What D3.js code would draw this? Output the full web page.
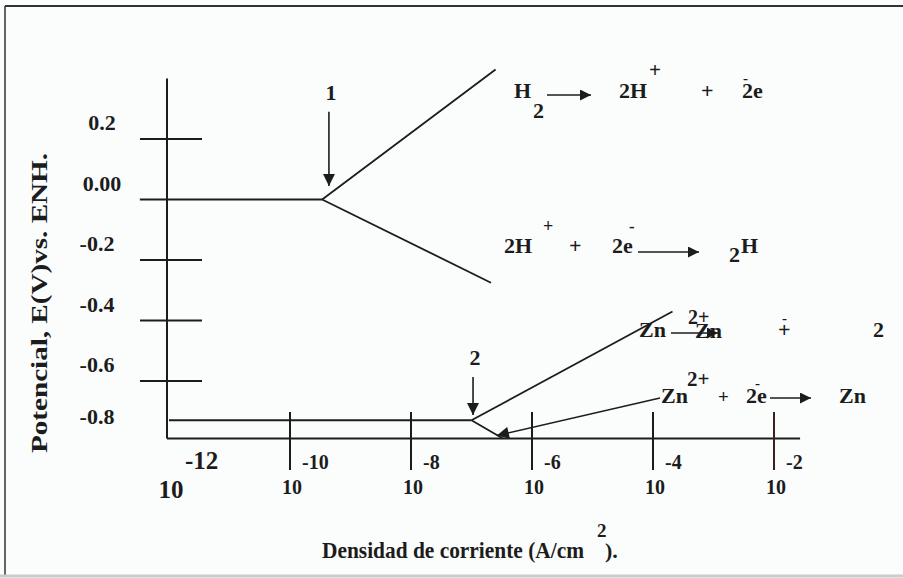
<!DOCTYPE html>
<html>
<head>
<meta charset="utf-8">
<script src="https://cdn.jsdelivr.net/npm/d3@7"></script>
<style>
  html, body { margin: 0; padding: 0; background: #fbfcfc; }
  svg { display: block; }
  text { font-family: "Liberation Serif", "Times New Roman", serif; font-weight: bold; fill: #1c1c1c; }
</style>
</head>
<body>
<svg id="chart" width="903" height="578"></svg>
<script>
// Potential (V vs. SHE) against current density (A/cm²): Evans diagram for H2 and Zn
const yTickValues = [0.2, -0.2, -0.4, -0.6];
const yLabelValues = [0.2, 0.0, -0.2, -0.4, -0.6, -0.8];
const yLabelText = ["0.2", "0.00", "-0.2", "-0.4", "-0.6", "-0.8"];
const xTickValues = [1e-12, 1e-10, 1e-8, 1e-6, 1e-4, 1e-2];
const xExponentText = ["-12", "-10", "-8", "-6", "-4", "-2"];

// hydrogen electrode: equilibrium line and the two Tafel branches
const h2Equilibrium = [{ i: 3.3e-13, e: 0.0 }, { i: 3.4e-10, e: 0.0 }];
const h2Anodic = [{ i: 3.4e-10, e: 0.0 }, { i: 2.5e-7, e: 0.43 }];
const h2Cathodic = [{ i: 3.4e-10, e: 0.0 }, { i: 2.1e-7, e: -0.275 }];

// zinc electrode
const znEquilibrium = [{ i: 1e-12, e: -0.73 }, { i: 1.0e-7, e: -0.73 }];
const znAnodic = [{ i: 1.0e-7, e: -0.73 }, { i: 2.1e-4, e: -0.37 }];
const znCathodic = [{ i: 1.0e-7, e: -0.73 }, { i: 3.3e-7, e: -0.79 }];

// exchange-current markers "1" and "2"
const markers = [
  { label: "1", i: 4.4e-10, eFrom: 0.29, eTo: 0.045 },
  { label: "2", i: 1.06e-7, eFrom: -0.587, eTo: -0.712 }
];

const axisExtent = { iMin: 1e-12, iMax: 2.7e-2, eMin: -0.79, eMax: 0.40 };

const svg = d3.select("#chart");
const ink = "#1c1c1c";

const x = d3.scaleLog().domain([1e-12, 1e-2]).range([169, 774]);
const y = d3.scaleLinear().domain([0.2, -0.6]).range([139, 381]);

// frame
svg.append("line").attr("x1", 5).attr("x2", 903).attr("y1", 6).attr("y2", 6)
  .attr("stroke", "#333").attr("stroke-width", 2);
svg.append("line").attr("x1", 5).attr("x2", 5).attr("y1", 6).attr("y2", 577)
  .attr("stroke", "#333").attr("stroke-width", 1.5);
svg.append("line").attr("x1", 0).attr("x2", 903).attr("y1", 576).attr("y2", 576)
  .attr("stroke", "#c9cccc").attr("stroke-width", 3);

// defs: arrowheads
const defs = svg.append("defs");
defs.append("marker").attr("id", "head").attr("viewBox", "0 0 10 10")
  .attr("refX", 10).attr("refY", 5).attr("markerWidth", 15).attr("markerHeight", 11)
  .attr("markerUnits", "userSpaceOnUse").attr("orient", "auto")
  .append("path").attr("d", "M0,0 L10,5 L0,10 Z").attr("fill", ink);
defs.append("marker").attr("id", "headBig").attr("viewBox", "0 0 10 10")
  .attr("refX", 10).attr("refY", 5).attr("markerWidth", 14).attr("markerHeight", 12)
  .attr("markerUnits", "userSpaceOnUse").attr("orient", "auto")
  .append("path").attr("d", "M0,0 L10,5 L0,10 Z").attr("fill", ink);

// axes
svg.append("line")
  .attr("x1", x(axisExtent.iMin) - 2).attr("x2", x(axisExtent.iMin) - 2)
  .attr("y1", y(axisExtent.eMax)).attr("y2", y(axisExtent.eMin))
  .attr("stroke", ink).attr("stroke-width", 2);
svg.append("line")
  .attr("x1", x(axisExtent.iMin) - 2).attr("x2", x(axisExtent.iMax))
  .attr("y1", y(axisExtent.eMin)).attr("y2", y(axisExtent.eMin))
  .attr("stroke", ink).attr("stroke-width", 2);

// potential ticks crossing the axis
svg.selectAll(".ytick").data(yTickValues).join("line")
  .attr("class", "ytick")
  .attr("x1", 140).attr("x2", 202)
  .attr("y1", d => y(d)).attr("y2", d => y(d))
  .attr("stroke", ink).attr("stroke-width", 2);

svg.selectAll(".ylab").data(yLabelValues).join("text")
  .attr("class", "ylab")
  .attr("x", (d, k) => (k < 2 ? 102 : 97))
  .attr("y", d => Math.min(y(d) - 9, y(axisExtent.eMin) - 14))
  .attr("text-anchor", "middle")
  .attr("font-size", 22)
  .text((d, k) => yLabelText[k]);

// current-density ticks (decades)
svg.selectAll(".xtick").data(xTickValues.slice(1)).join("line")
  .attr("class", "xtick")
  .attr("x1", d => x(d)).attr("x2", d => x(d))
  .attr("y1", 412).attr("y2", 470)
  .attr("stroke", (d, k) => (k === 4 ? "#3a2220" : ink)).attr("stroke-width", 2);

svg.selectAll(".xexp").data(xTickValues).join("text")
  .attr("class", "xexp")
  .attr("x", (d, k) => x(d) + (k === 0 ? 16 : 12))
  .attr("y", 469)
  .attr("font-size", (d, k) => (k === 0 ? 25 : 20))
  .text((d, k) => xExponentText[k]);

svg.selectAll(".xbase").data(xTickValues).join("text")
  .attr("class", "xbase")
  .attr("x", d => x(d) + 2)
  .attr("y", (d, k) => (k === 0 ? 498 : 494))
  .attr("text-anchor", "middle")
  .attr("font-size", (d, k) => (k === 0 ? 25 : 20))
  .text("10");

// polarisation curves
const line = d3.line().x(d => x(d.i)).y(d => y(d.e));
const curves = [h2Anodic, h2Cathodic, znAnodic, znCathodic];
svg.selectAll(".curve").data(curves).join("path")
  .attr("class", "curve")
  .attr("d", line).attr("fill", "none")
  .attr("stroke", ink).attr("stroke-width", 1.8);

// equilibrium lines (hydrogen line starts left of the axis, like the ticks)
svg.selectAll(".eq").data([h2Equilibrium, znEquilibrium]).join("path")
  .attr("class", "eq")
  .attr("d", line).attr("fill", "none")
  .attr("stroke", ink).attr("stroke-width", 2);

// exchange-current markers
markers.forEach(m => {
  svg.append("line")
    .attr("x1", x(m.i)).attr("x2", x(m.i))
    .attr("y1", y(m.eFrom)).attr("y2", y(m.eTo))
    .attr("stroke", ink).attr("stroke-width", 1.6)
    .attr("marker-end", "url(#headBig)");
  svg.append("text")
    .attr("x", x(m.i) + 2).attr("y", y(m.eFrom) - 12)
    .attr("text-anchor", "middle").attr("font-size", 22)
    .text(m.label);
});

// reaction equations
function piece(t, px, py, size) {
  svg.append("text").attr("x", px).attr("y", py).attr("font-size", size || 22).text(t);
}
function arrow(x1, y1, x2, y2, w) {
  svg.append("line").attr("x1", x1).attr("y1", y1).attr("x2", x2).attr("y2", y2)
    .attr("stroke", ink).attr("stroke-width", w || 1.3)
    .attr("marker-end", "url(#head)");
}

// H2 -> 2H+ + 2e-
piece("H", 514, 98);
piece("2", 533, 118);
arrow(547, 95, 591, 95);
piece("2H", 619, 98);
piece("+", 649, 77, 21);
piece("+", 701, 98);
piece("-", 743, 83, 15);
piece("2e", 742, 98);

// 2H+ + 2e- -> H2
piece("2H", 504, 253);
piece("+", 543, 232, 18);
piece("+", 569, 253);
piece("2e", 612, 253);
piece("-", 629, 232, 17);
arrow(638, 252, 699, 252);
piece("2", 729, 262);
piece("H", 741, 253);

// Zn -> Zn2+ + 2e-
piece("Zn", 639, 337);
arrow(671, 333, 718, 333);
piece("2+", 688, 324, 20);
piece("Zn", 695, 338);
piece("-", 782, 323, 15);
piece("+", 778, 337);
piece("2", 873, 337);

// Zn2+ + 2e- -> Zn, pointing at the cathodic zinc branch
piece("Zn", 661, 403);
piece("2+", 687, 386, 21);
piece("+", 718, 403, 19);
piece("2e", 746, 403);
piece("-", 755, 388, 15);
arrow(770, 398, 811, 398);
piece("Zn", 839, 403);
svg.append("line")
  .attr("x1", 660).attr("y1", 398).attr("x2", x(znCathodic[1].i) - 6).attr("y2", y(znCathodic[1].e) - 3)
  .attr("stroke", ink).attr("stroke-width", 1.5)
  .attr("marker-end", "url(#headBig)");

// axis titles
svg.append("text")
  .attr("transform", "translate(47,303) rotate(-90)")
  .attr("text-anchor", "middle").attr("font-size", 23)
  .attr("textLength", 300).attr("lengthAdjust", "spacingAndGlyphs")
  .text("Potencial, E(V)vs. ENH.");

svg.append("text")
  .attr("x", 322).attr("y", 558)
  .attr("font-size", 24)
  .attr("textLength", 262).attr("lengthAdjust", "spacingAndGlyphs")
  .text("Densidad de corriente (A/cm");
svg.append("text").attr("x", 597).attr("y", 537).attr("font-size", 19).text("2");
svg.append("text").attr("x", 605).attr("y", 558).attr("font-size", 22).text(").");
</script>
</body>
</html>
